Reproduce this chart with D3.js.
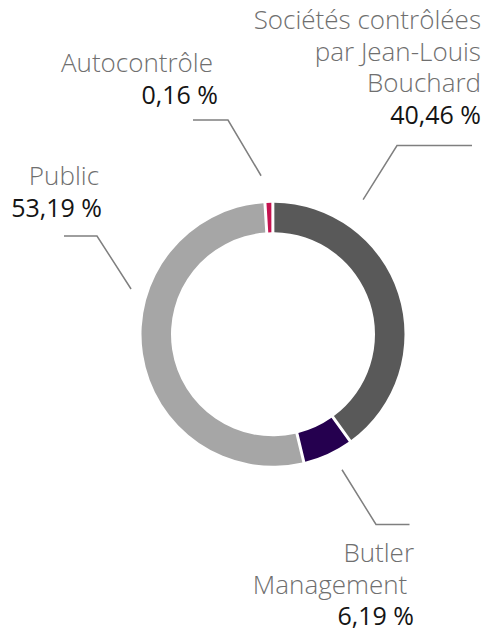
<!DOCTYPE html>
<html>
<head>
<meta charset="utf-8">
<script src="https://cdn.jsdelivr.net/npm/d3@7"></script>
<style>
	body {margin: 0; background: #fff}
	.lbl {font-family: "Open Sans", sans-serif; font-weight: 300; font-size: 26px; fill: #6f6f6f}
	.val {font-family: "Open Sans", sans-serif; font-weight: 400; font-size: 25px; fill: #141414}
</style>
</head>
<body>
<svg width="489" height="631"></svg>
<script>
'use strict';
// data, clockwise from the top
let aNames = [["Sociétés contrôlées", "par Jean-Louis", "Bouchard"], ["Butler", "Management\u00a0"], ["Public"], ["Autocontrôle"]]
let aShares = [40.46, 6.19, 53.19, 0.16]
let aValLabels = ["40,46 %", "6,19 %", "53,19 %", "0,16 %"]
let aColors = ["#595959", "#25004f", "#a6a6a6", "#c5124f"]

// label layout: leader tip (polar around centre), elbow, end of line, text anchors
let aLayout = [
	{tip: [33.8, 162], elbow: [397, 145.5], end: 472, lx: 481, tx: 481, ty: 29},
	{tip: [153, 152], elbow: [376, 524.5], end: 409.5, lx: 414, tx: 414, ty: 562},
	{tip: [287.7, 149], elbow: [97, 236], end: 64, lx: 99, tx: 102, ty: 185},
	{tip: [-4.3, 159], elbow: [228, 120], end: 193, lx: 213, tx: 218, ty: 72}]

let eSvg = d3.select("svg"),
	dCx = 273, dCy = 334.3,
	dOuter = 131.5, dInner = 102,
	dLine = 31.5,
	dMinSpan = 0.06 // keep the tiny slice visible

let rad = deg => deg * Math.PI / 180

let fPie = d3.pie().sort(null).value(d => d).startAngle(rad(-1.5)).endAngle(rad(358.5))
let fArc = d3.arc().innerRadius(dInner).outerRadius(dOuter).padAngle(0.03).padRadius(100)

let aArcs = fPie(aShares)
// widen slices that would vanish, trimming their neighbours
aArcs.forEach((a, i, arr) => {
	if (a.endAngle - a.startAngle >= dMinSpan) return
	let m = (a.startAngle + a.endAngle) / 2
	a.startAngle = m - dMinSpan / 2
	a.endAngle = m + dMinSpan / 2
	let prev = arr[(i - 1 + arr.length) % arr.length], next = arr[(i + 1) % arr.length]
	prev.endAngle = Math.min(prev.endAngle, a.startAngle)
	next.startAngle = i === arr.length - 1 ? a.endAngle - 2 * Math.PI : a.endAngle})

let gChart = eSvg.append("g").attr("transform", `translate(${dCx},${dCy})`)
gChart.selectAll("path")
	.data(aArcs)
	.enter()
	.append("path")
	.attr("d", fArc)
	.attr("fill", (d, i) => aColors[i])

// leader lines
let polar = (deg, r) => [dCx + r * Math.sin(rad(deg)), dCy - r * Math.cos(rad(deg))]
eSvg.append("g").selectAll("polyline")
	.data(aLayout)
	.enter()
	.append("polyline")
	.attr("points", d => [polar(...d.tip), d.elbow, [d.end, d.elbow[1]]].map(p => p.join(",")).join(" "))
	.attr("fill", "none")
	.attr("stroke", "#7f7f7f")
	.attr("stroke-width", 1.5)

// labels
let gLabels = eSvg.append("g").attr("text-anchor", "end")
aLayout.forEach((l, i) => {
	aNames[i].forEach((s, j) => {
		gLabels.append("text").attr("class", "lbl")
			.attr("x", l.lx).attr("y", l.ty + j * dLine).text(s)})
	gLabels.append("text").attr("class", "val")
		.attr("x", l.tx).attr("y", l.ty + aNames[i].length * dLine).text(aValLabels[i])})
</script>
</body>
</html>
